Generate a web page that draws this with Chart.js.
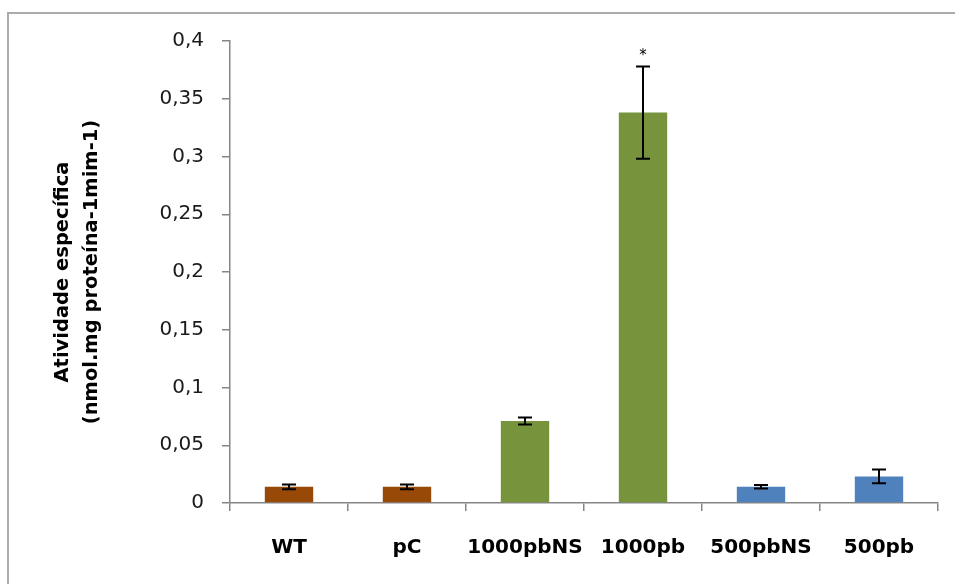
<!DOCTYPE html>
<html lang="pt">
<head>
  <meta charset="UTF-8">
  <title>Atividade específica</title>
  <script src="https://cdn.jsdelivr.net/npm/chart.js"></script>
  <style>
    html, body { margin: 0; padding: 0; background: #fff; overflow: hidden; }
    #wrap { position: relative; width: 955px; height: 584px; overflow: hidden; }
    #frame {
      position: absolute; left: 7px; top: 12px; width: 1100px; height: 700px;
      border-left: 2px solid #ababab; border-top: 2px solid #ababab;
    }
    canvas { position: absolute; left: 0; top: 0; }
  </style>
</head>
<body>
<div id="wrap">
  <div id="frame"></div>
  <canvas id="chart" width="955" height="584"></canvas>
</div>
<script>
// data
const categories = ['WT', 'pC', '1000pbNS', '1000pb', '500pbNS', '500pb'];
const values = [0.014, 0.014, 0.071, 0.338, 0.014, 0.023];
const errors = [0.002, 0.002, 0.003, 0.040, 0.0015, 0.006];
const marks = ['', '', '', '*', '', ''];
const barColors = ['#984807', '#984807', '#77933C', '#77933C', '#4F81BD', '#4F81BD'];
const yTicks = [0, 0.05, 0.1, 0.15, 0.2, 0.25, 0.3, 0.35, 0.4];
const yTitle = ['Atividade específica', '(nmol.mg proteína-1mim-1)'];

const axisGray = '#868686';

// error bars + significance mark, drawn through the scales
const errorBars = {
  id: 'errorBars',
  afterDatasetsDraw(chart) {
    const ctx = chart.ctx;
    const x = chart.scales.x, y = chart.scales.y;
    ctx.save();
    ctx.strokeStyle = '#000';
    ctx.lineWidth = 2;
    values.forEach((v, i) => {
      const cx = x.getPixelForValue(i);
      const yTop = y.getPixelForValue(v + errors[i]);
      const yBot = y.getPixelForValue(v - errors[i]);
      ctx.beginPath();
      ctx.moveTo(cx, yTop); ctx.lineTo(cx, yBot);
      ctx.moveTo(cx - 7, yTop); ctx.lineTo(cx + 7, yTop);
      ctx.moveTo(cx - 7, yBot); ctx.lineTo(cx + 7, yBot);
      ctx.stroke();
      if (marks[i]) {
        ctx.fillStyle = '#000';
        ctx.font = '15px "DejaVu Sans"';
        ctx.textAlign = 'center';
        ctx.textBaseline = 'middle';
        ctx.fillText(marks[i], cx, yTop - 10);
      }
    });
    ctx.restore();
  }
};

// two-line rotated y title
const yTitlePlugin = {
  id: 'yTitle',
  afterDraw(chart) {
    const ctx = chart.ctx;
    const area = chart.chartArea;
    const cy = (area.top + area.bottom) / 2;
    ctx.save();
    ctx.fillStyle = '#000';
    ctx.font = 'bold 19.5px "DejaVu Sans"';
    ctx.textAlign = 'center';
    ctx.textBaseline = 'middle';
    [63, 92].forEach((cx, i) => {
      ctx.save();
      ctx.translate(cx, cy);
      ctx.rotate(-Math.PI / 2);
      ctx.fillText(yTitle[i], 0, 0);
      ctx.restore();
    });
    ctx.restore();
  }
};

new Chart(document.getElementById('chart'), {
  type: 'bar',
  data: {
    labels: categories,
    datasets: [{
      data: values,
      backgroundColor: barColors,
      borderWidth: 0,
      barPercentage: 0.41,
      categoryPercentage: 1
    }]
  },
  options: {
    responsive: false,
    animation: false,
    layout: { padding: { top: 41, right: 17, left: 0, bottom: 0 } },
    plugins: { legend: { display: false }, tooltip: { enabled: false } },
    scales: {
      x: {
        grid: { drawOnChartArea: false, drawTicks: true, tickLength: 8, color: axisGray, lineWidth: 1.5 },
        border: { color: axisGray, width: 1.5 },
        ticks: {
          padding: 25,
          maxRotation: 0,
          minRotation: 0,
          autoSkip: false,
          color: '#000',
          font: { family: '"DejaVu Sans"', size: 20, weight: 'bold' }
        },
        afterFit(scale) { scale.height = 81; }
      },
      y: {
        min: 0,
        max: 0.4,
        afterBuildTicks(scale) { scale.ticks = yTicks.map(v => ({ value: v })); },
        grid: { drawOnChartArea: false, drawTicks: true, tickLength: 8, color: axisGray, lineWidth: 1.5 },
        border: { color: axisGray, width: 1.5 },
        ticks: {
          padding: 18,
          color: '#1a1a1a',
          font: { family: '"DejaVu Sans"', size: 20 },
          callback: v => String(Number(v.toFixed(2))).replace('.', ',')
        },
        afterFit(scale) { scale.width = 230; }
      }
    }
  },
  plugins: [errorBars, yTitlePlugin]
});
</script>
</body>
</html>
